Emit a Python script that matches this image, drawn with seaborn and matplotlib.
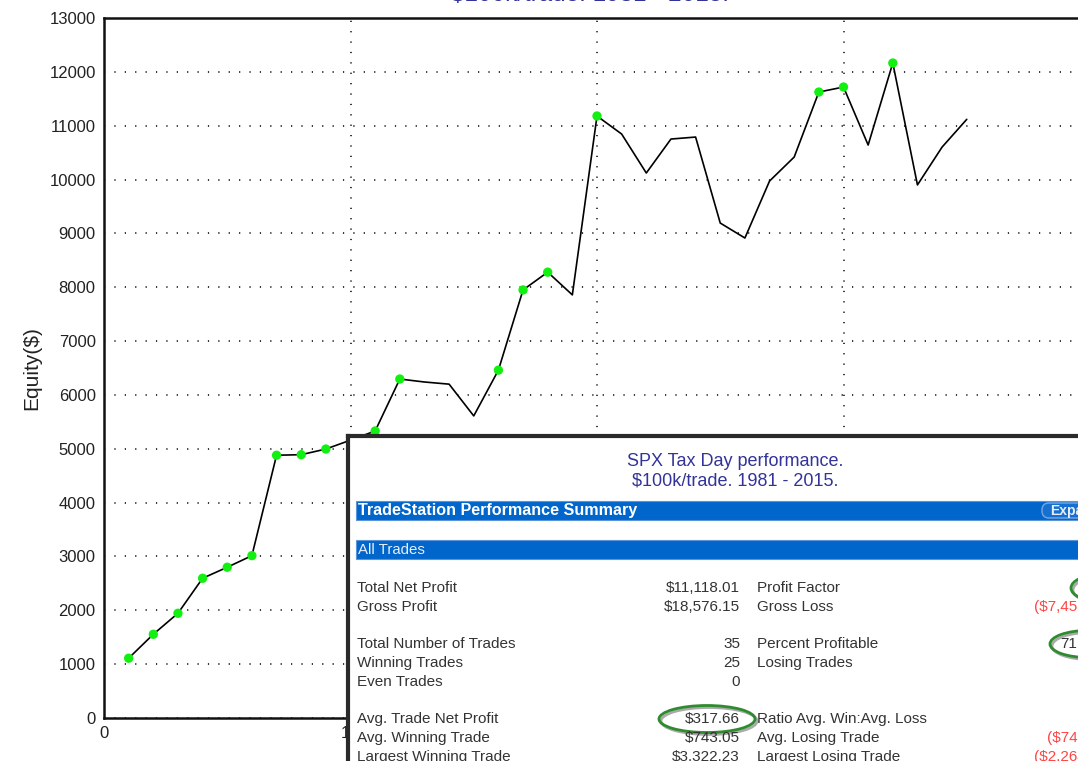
import matplotlib
matplotlib.use("Agg")
import matplotlib.pyplot as plt
import pandas as pd
import seaborn as sns
from matplotlib.patches import Ellipse, FancyBboxPatch, Rectangle
from matplotlib.ticker import MultipleLocator

# equity curve, one point per trade
trade_no = list(range(1, 36))
equity = [1110, 1555, 1945, 2595, 2800, 3015, 4880, 4890, 4995, 5160,
          5330, 6295, 6240, 6200, 5610, 6460, 7950, 8280, 7858, 11180,
          10845, 10121, 10752, 10789, 9192, 8914, 9972, 10418, 11625, 11718,
          10641, 12164, 9900, 10603, 11118]

chart_title = "$100k/trade. 1981 - 2015."
box_title = ["SPX Tax Day performance.", "$100k/trade. 1981 - 2015."]

# performance summary table
left_labels = ["Total Net Profit", "Gross Profit",
               "Total Number of Trades", "Winning Trades", "Even Trades",
               "Avg. Trade Net Profit", "Avg. Winning Trade", "Largest Winning Trade"]
left_values = ["$11,118.01", "$18,576.15", "35", "25", "0",
               "$317.66", "$743.05", "$3,322.23"]
right_labels = ["Profit Factor", "Gross Loss", "Percent Profitable", "Losing Trades", "",
                "Ratio Avg. Win:Avg. Loss", "Avg. Losing Trade", "Largest Losing Trade"]
right_values = ["2.49", "($7,458.14)", "71.43%", "10", "",
                "1.00", "($745.81)", "($2,264.12)"]
circled = {"left": [5], "right": [0, 2]}

sns.set_style("white")
plt.rcParams["font.family"] = ["Liberation Sans", "DejaVu Sans"]

df = pd.DataFrame({"trade": trade_no, "equity": equity})
df["is_high"] = df["equity"] >= df["equity"].cummax()
highs = df[df["is_high"]]

W, H = 1078, 761
fig = plt.figure(figsize=(W / 100, H / 100), dpi=100)

# main equity axes (right side runs past the figure edge, like the screenshot)
ax = fig.add_axes([104 / W, 1 - 718 / H, 986 / W, 700 / H])
sns.lineplot(data=df, x="trade", y="equity", color="black", lw=1.2, ax=ax, zorder=2)
sns.scatterplot(data=highs, x="trade", y="equity", color="#11f011", s=45,
                edgecolor="none", ax=ax, zorder=3)

ax.set_xlim(0, 40)
ax.set_ylim(0, 13000)
ax.xaxis.set_major_locator(MultipleLocator(10))
ax.xaxis.set_minor_locator(MultipleLocator(5))
ax.yaxis.set_major_locator(MultipleLocator(1000))
ax.yaxis.set_minor_locator(MultipleLocator(500))
ax.grid(True, which="major", color="black", linestyle=(0, (0.8, 6)), lw=1.1)
ax.tick_params(which="major", direction="out", length=4, width=1.5,
               labelsize=12, pad=2, colors="#222222")
ax.tick_params(which="minor", direction="inout", length=8, width=1.5)
for s in ax.spines.values():
    s.set_linewidth(1.8)
    s.set_color("#111111")
ax.set_xlabel("")
ax.set_ylabel("Equity($)", fontsize=15, color="#222222")
ax.yaxis.set_label_coords(-0.064, 0.5)

# chart title sits mostly above the cropped screenshot
fig.text(590 / W, 1 - 1 / H, chart_title, ha="center", va="baseline",
         fontsize=17.5, color="#333399")

# performance summary box pasted over the lower right
bx = fig.add_axes([348 / W, 1 - 811 / H, 780 / W, 375 / H])
bx.set_xlim(348, 1128)
bx.set_ylim(811, 436)
bx.set_xticks([])
bx.set_yticks([])
bx.set_facecolor("white")
for side in ["left", "top"]:
    bx.spines[side].set_linewidth(3)
    bx.spines[side].set_color("#2a2a2a")

for i, line in enumerate(box_title):
    bx.text(735, 461 + 20 * i, line, ha="center", va="center",
            fontsize=13, color="#333399")

bx.add_patch(Rectangle((356, 501), 780, 19, facecolor="#0066cc", edgecolor="#5b95d8", lw=0.8))
bx.text(358, 510.5, "TradeStation Performance Summary", ha="left", va="center",
        fontsize=11.6, fontweight="bold", color="white")
bx.add_patch(FancyBboxPatch((1042, 503), 70, 15, boxstyle="round,pad=0,rounding_size=7",
                            facecolor="#1670cf", edgecolor="#7aa6e0", lw=1))
bx.text(1050, 510.5, "Expand", ha="left", va="center", fontsize=10,
        fontweight="bold", color="#e8eef8")
bx.add_patch(Rectangle((356, 540), 780, 19, facecolor="#0066cc", edgecolor="#5b95d8", lw=0.8))
bx.text(358, 549.5, "All Trades", ha="left", va="center", fontsize=10.8, color="#e8eef8")

row_y = [588, 607, 644, 663, 682, 719, 738, 757]
for i, y in enumerate(row_y):
    bx.text(357, y, left_labels[i], ha="left", va="center", fontsize=11, color="#333333")
    bx.text(740, y, left_values[i], ha="right", va="center", fontsize=11, color="#333333")
    bx.text(757, y, right_labels[i], ha="left", va="center", fontsize=11, color="#333333")
    neg = right_values[i].startswith("(")
    bx.text(1112, y, right_values[i], ha="right", va="center", fontsize=11,
            color="#ff4444" if neg else "#333333")

for i in circled["left"]:
    bx.add_patch(Ellipse((709, row_y[i] + 2), 96, 27, fill=False, edgecolor="#aaaaaa", lw=2))
    bx.add_patch(Ellipse((707, row_y[i]), 96, 27, fill=False, edgecolor="#2e8b2e", lw=2))
for i in circled["right"]:
    w = 60 if i == 0 else 76
    cx = 1101 if i == 0 else 1088
    bx.add_patch(Ellipse((cx + 2, row_y[i] + 2), w, 27, fill=False, edgecolor="#aaaaaa", lw=2))
    bx.add_patch(Ellipse((cx, row_y[i]), w, 27, fill=False, edgecolor="#2e8b2e", lw=2))

fig.savefig("out.png", dpi=100)
